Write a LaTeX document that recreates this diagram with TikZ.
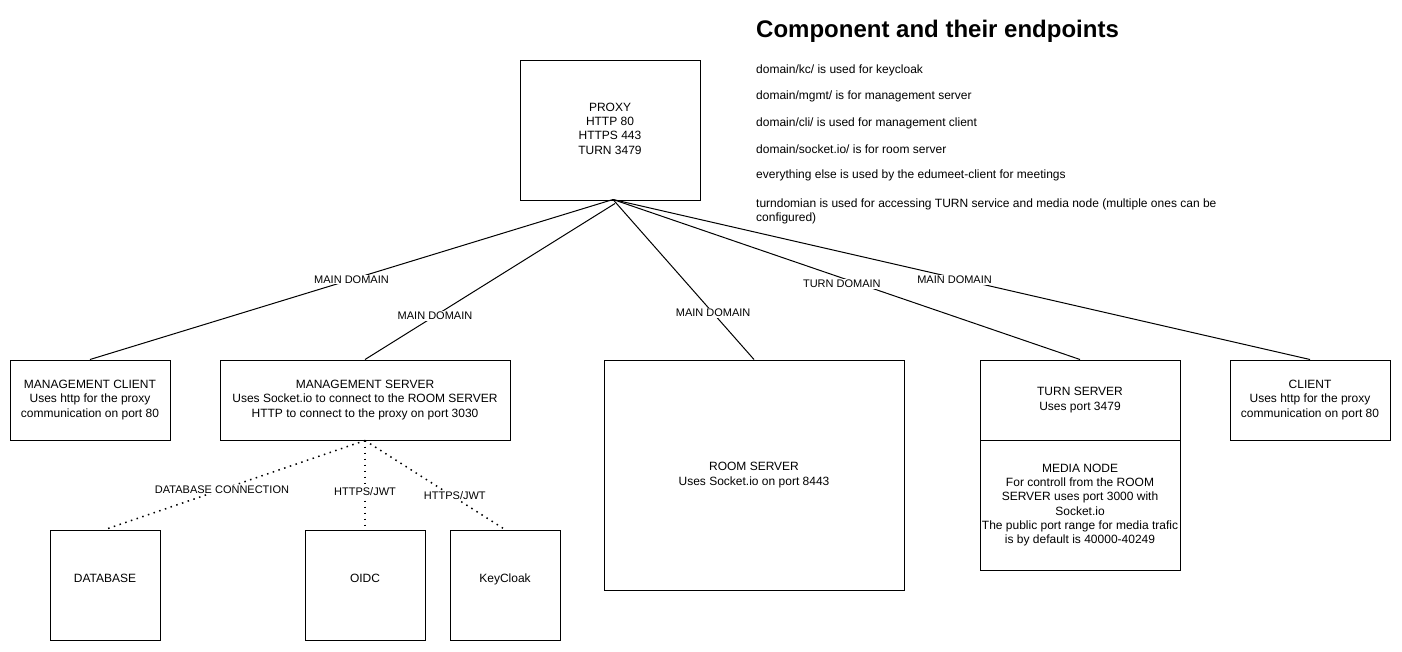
\documentclass[tikz,border=0pt]{standalone}
\usepackage{fontspec}
\setmainfont{Liberation Sans}
\begin{document}
\begin{tikzpicture}[x=1pt,y=-1pt,
  box/.style={draw=black, line width=1pt, fill=white, align=center, inner sep=1pt,
    font=\fontsize{12}{14.3}\selectfont},
  raised/.style={text depth=14pt},
  lbl/.style={fill=white, inner sep=1pt, font=\fontsize{11}{13}\selectfont},
  conn/.style={draw=black, line width=1pt},
  dotline/.style={draw=black, line width=1.5pt, dash pattern=on 1.5pt off 4.5pt},
  txt/.style={anchor=west, inner sep=0pt, align=left, font=\fontsize{12}{14.5}\selectfont}]
\path[fill=white] (0,0) rectangle (1402,651);
\useasboundingbox (0,0) rectangle (1402,651);

% boxes
\node[box, text depth=3pt, minimum width=180, minimum height=140] (proxy) at (610,130) {PROXY\\HTTP 80\\HTTPS 443\\TURN 3479};
\node[box, minimum width=160, minimum height=80] (mclient) at (90,400) {MANAGEMENT CLIENT\\Uses http for the proxy\\communication on port 80};
\node[box, minimum width=290, minimum height=80] (mserver) at (365,400) {MANAGEMENT SERVER\\Uses Socket.io to connect to the ROOM SERVER\\HTTP to connect to the proxy on port 3030};
\node[box, minimum width=300, minimum height=230] (room) at (754,475) {ROOM SERVER\\Uses Socket.io on port 8443};
\node[box, minimum width=200, minimum height=80] (turn) at (1080,400) {TURN SERVER\\Uses port 3479};
\node[box, minimum width=200, minimum height=130] (media) at (1080,505) {MEDIA NODE\\For controll from the ROOM\\SERVER uses port 3000 with\\Socket.io\\The public port range for media trafic\\is by default is 40000-40249};
\node[box, minimum width=160, minimum height=80] (client) at (1310,400) {CLIENT\\Uses http for the proxy\\communication on port 80};
\node[box, raised, minimum width=110, minimum height=110] (db) at (105,585) {DATABASE};
\node[box, raised, minimum width=120, minimum height=110] (oidc) at (365,585) {OIDC};
\node[box, raised, minimum width=110, minimum height=110] (kc) at (505,585) {KeyCloak};

% proxy connectors
\draw[conn] ([xshift=3,yshift=1]proxy.south) -- (mclient.north) node[lbl, pos=0.5] {MAIN DOMAIN};
\draw[conn] ([xshift=5,yshift=-3]proxy.south) -- (mserver.north) node[lbl, pos=0.72] {MAIN DOMAIN};
\draw[conn] ([xshift=3,yshift=1]proxy.south) -- (room.north) node[lbl, pos=0.71] {MAIN DOMAIN};
\draw[conn] ([xshift=3,yshift=1]proxy.south) -- (turn.north) node[lbl, pos=0.49, yshift=-6] {TURN DOMAIN};
\draw[conn] ([xshift=3,yshift=1]proxy.south) -- (client.north) node[lbl, pos=0.49, yshift=-2] {MAIN DOMAIN};

% dotted connectors
\draw[dotline] (mserver.south) -- (db.north) node[lbl, pos=0.55] {DATABASE CONNECTION};
\draw[dotline] (mserver.south) -- (oidc.north) node[lbl, pos=0.57] {HTTPS/JWT};
\draw[dotline] (mserver.south) -- (kc.north) node[lbl, pos=0.62, xshift=3] {HTTPS/JWT};

% text block
\node[txt, font=\fontsize{24}{28}\bfseries] (title) at (756,31) {Component and their endpoints};
\node[txt] (t1) at (756,70) {domain/kc/ is used for keycloak};
\node[txt] (t2) at (756,96) {domain/mgmt/ is for management server};
\node[txt] (t3) at (756,123) {domain/cli/ is used for management client};
\node[txt] (t4) at (756,149) {domain/socket.io/ is for room server};
\node[txt] (t5) at (756,175.5) {everything else is used by the edumeet-client for meetings};
\node[txt] (t6) at (756,211.5) {turndomian is used for accessing TURN service and media node (multiple ones can be\\configured)};
\end{tikzpicture}
\end{document}
